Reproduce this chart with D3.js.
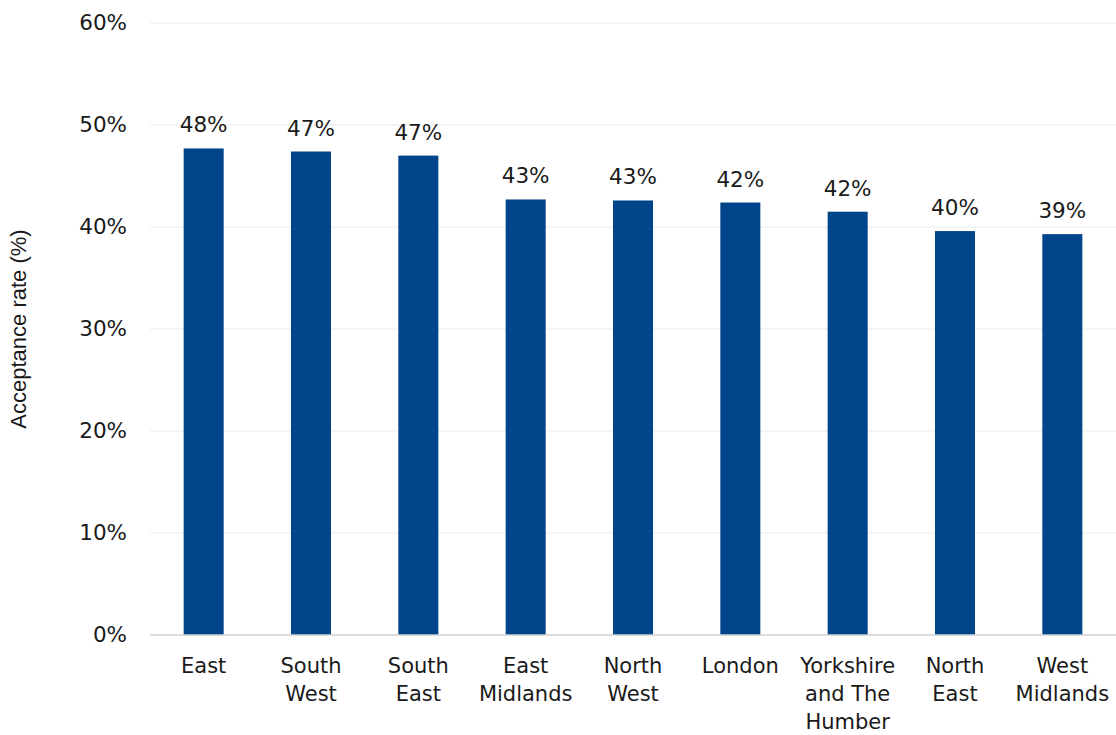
<!DOCTYPE html>
<html>
<head>
<meta charset="utf-8">
<script src="https://cdn.jsdelivr.net/npm/d3@7"></script>
<style>
  body { margin: 0; background: #fff; }
  svg text { fill: #1a1a1a; }
</style>
</head>
<body>
<div id="root"></div>
<script>
const regions = ["East", "South West", "South East", "East Midlands", "North West", "London", "Yorkshire and The Humber", "North East", "West Midlands"];
// category labels split into lines as shown
const regionLines = [["East"], ["South", "West"], ["South", "East"], ["East", "Midlands"], ["North", "West"], ["London"], ["Yorkshire", "and The", "Humber"], ["North", "East"], ["West", "Midlands"]];
const rates = [47.7, 47.4, 47.0, 42.7, 42.6, 42.4, 41.5, 39.6, 39.3];
const yTicks = [0, 10, 20, 30, 40, 50, 60];

const w = 1116;
const h = 735;
const paddingTop = 23;
const paddingBottom = 100;
const paddingLeft = 150;
const paddingRight = 0;
const font = "'DejaVu Sans', sans-serif";

const svg = d3.select("#root")
    .append("svg")
    .attr("width", w)
    .attr("height", h);

const xScale = d3.scaleBand()
    .domain(regions)
    .range([paddingLeft, w - paddingRight])
    .paddingInner(0.627)
    .paddingOuter(0.3135);

const yScale = d3.scaleLinear()
    .domain([0, 60])
    .range([h - paddingBottom, paddingTop]);

// gridlines
svg.append("g")
    .selectAll("line")
    .data(yTicks.slice(1))
    .enter()
    .append("line")
    .attr("x1", paddingLeft)
    .attr("x2", w - paddingRight)
    .attr("y1", d => yScale(d))
    .attr("y2", d => yScale(d))
    .attr("stroke", "#ececec")
    .attr("stroke-width", 1.2);

// y-axis labels
const yAxis = d3.axisLeft(yScale).tickValues(yTicks).tickFormat(d => d + "%").tickSize(0).tickPadding(23);
svg.append("g")
    .attr("transform", "translate(" + paddingLeft + ", 0)")
    .call(yAxis)
    .call(g => g.select(".domain").remove())
    .selectAll("text")
    .style("font-family", font)
    .style("font-size", "21.5px")
    .attr("fill", "#1a1a1a");

// bars
svg.selectAll("rect.bar")
    .data(regions)
    .enter()
    .append("rect")
    .attr("class", "bar")
    .attr("x", d => xScale(d))
    .attr("y", (d, i) => yScale(rates[i]))
    .attr("width", xScale.bandwidth())
    .attr("height", (d, i) => yScale(0) - yScale(rates[i]))
    .attr("fill", "#00448a");

// value labels
svg.selectAll("text.value")
    .data(regions)
    .enter()
    .append("text")
    .attr("class", "value")
    .attr("x", d => xScale(d) + xScale.bandwidth() / 2)
    .attr("y", (d, i) => yScale(rates[i]) - 16)
    .attr("text-anchor", "middle")
    .style("font-family", font)
    .style("font-size", "21.5px")
    .text((d, i) => Math.round(rates[i]) + "%");

// x-axis line
svg.append("line")
    .attr("x1", paddingLeft)
    .attr("x2", w - paddingRight)
    .attr("y1", yScale(0))
    .attr("y2", yScale(0))
    .attr("stroke", "#d0d0d0")
    .attr("stroke-width", 1.5);

// category labels
const cat = svg.selectAll("text.cat")
    .data(regions)
    .enter()
    .append("text")
    .attr("class", "cat")
    .attr("text-anchor", "middle")
    .style("font-family", font)
    .style("font-size", "21px");

cat.selectAll("tspan")
    .data((d, i) => regionLines[i].map(line => ({ region: d, line: line })))
    .enter()
    .append("tspan")
    .attr("x", d => xScale(d.region) + xScale.bandwidth() / 2)
    .attr("y", (d, j) => yScale(0) + 38 + j * 28)
    .text(d => d.line);

// y-axis title
svg.append("text")
    .attr("transform", "translate(26, " + (yScale(30)) + ") rotate(-90)")
    .attr("text-anchor", "middle")
    .style("font-family", "'Liberation Sans', Arial, sans-serif")
    .style("font-size", "22px")
    .text("Acceptance rate (%)");
</script>
</body>
</html>
